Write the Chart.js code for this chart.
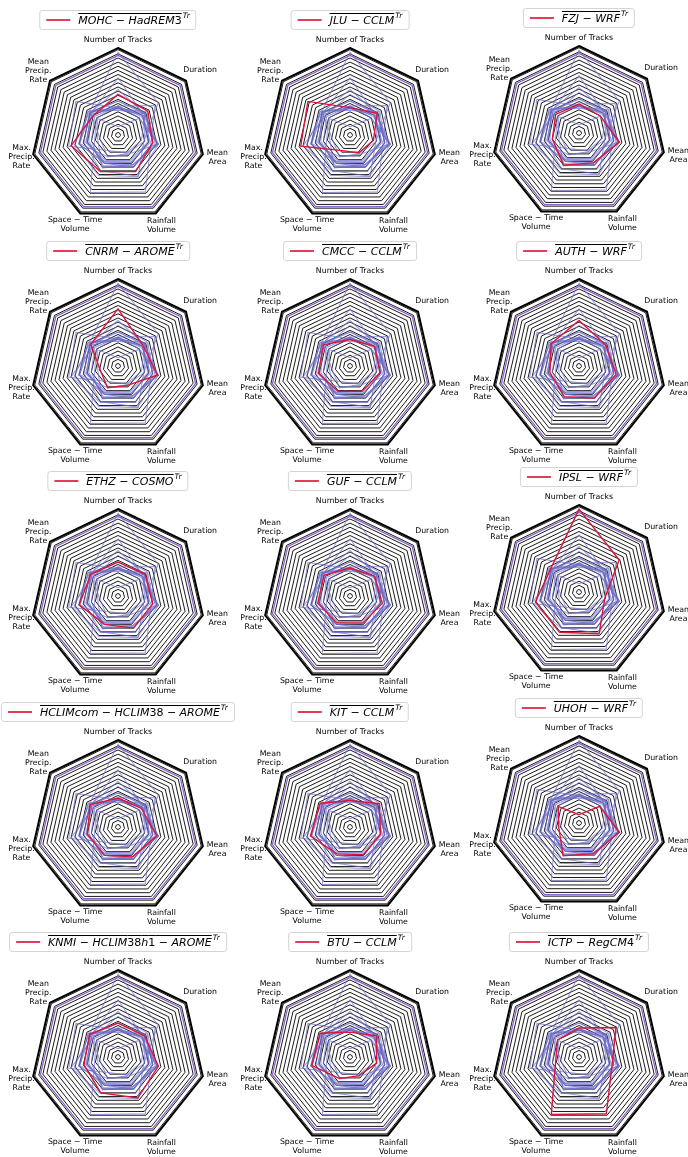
<!DOCTYPE html>
<html>
<head>
<meta charset="utf-8">
<script src="https://cdn.jsdelivr.net/npm/chart.js@4.4.1/dist/chart.umd.min.js"></script>
<style>
html,body{margin:0;padding:0;background:#fff;}
#wrap{position:relative;width:688px;height:1157px;overflow:hidden;background:#fff;}
.cell{position:absolute;width:232px;height:245px;}
.cell canvas{position:absolute;left:0;top:0;}
.leg{position:absolute;top:10px;left:116px;transform:translateX(-50%);height:20px;box-sizing:border-box;border:1px solid #d4d4d4;border-radius:3px;background:#fff;white-space:nowrap;display:flex;align-items:center;padding:0 6px 0 6px;font-family:"DejaVu Sans",sans-serif;font-size:11px;color:#000;z-index:2;}
.sw{display:inline-block;width:24px;height:1.5px;background:rgb(225,60,90);margin-right:8px;}
.nm{font-style:italic;text-decoration:overline;text-decoration-thickness:1px;}
.nm .d{font-style:normal;}
.sp{font-size:7.5px;font-style:italic;position:relative;top:-5px;margin-left:1px;}
</style>
</head>
<body>
<div id="wrap"></div>
<script>
// ---- data ----
const axisLabels = ["Number of Tracks", "Duration", "Mean\nArea", "Rainfall\nVolume", "Space \u2212 Time\nVolume", "Max.\nPrecip.\nRate", "Mean\nPrecip.\nRate"];
const modelNames = ["MOHC \u2212 HadREM3", "JLU \u2212 CCLM", "FZJ \u2212 WRF", "CNRM \u2212 AROME", "CMCC \u2212 CCLM", "AUTH \u2212 WRF", "ETHZ \u2212 COSMO", "GUF \u2212 CCLM", "IPSL \u2212 WRF", "HCLIMcom \u2212 HCLIM38 \u2212 AROME", "KIT \u2212 CCLM", "UHOH \u2212 WRF", "KNMI \u2212 HCLIM38h1 \u2212 AROME", "BTU \u2212 CCLM", "ICTP \u2212 RegCM4"];
const legendSuffix = "Tr";

const MOHC_HadREM3 = [0.46, 0.43, 0.40, 0.46, 0.46, 0.55, 0.35];
const JLU_CCLM     = [0.30, 0.39, 0.26, 0.21, 0.18, 0.58, 0.62];
const FZJ_WRF      = [0.32, 0.30, 0.47, 0.37, 0.40, 0.30, 0.33];
const CNRM_AROME   = [0.66, 0.36, 0.46, 0.23, 0.26, 0.19, 0.39];
const CMCC_CCLM    = [0.29, 0.35, 0.34, 0.31, 0.31, 0.36, 0.38];
const AUTH_WRF     = [0.52, 0.38, 0.43, 0.40, 0.38, 0.33, 0.40];
const ETHZ_COSMO   = [0.38, 0.39, 0.40, 0.40, 0.35, 0.45, 0.39];
const GUF_CCLM     = [0.31, 0.35, 0.37, 0.33, 0.33, 0.37, 0.37];
const IPSL_WRF     = [0.97, 0.59, 0.29, 0.53, 0.51, 0.51, 0.41];
const HCLIMcom_AROME = [0.32, 0.33, 0.45, 0.37, 0.35, 0.35, 0.40];
const KIT_CCLM     = [0.29, 0.42, 0.35, 0.34, 0.33, 0.46, 0.43];
const UHOH_WRF     = [0.07, 0.29, 0.47, 0.38, 0.41, 0.22, 0.29];
const KNMI_AROME   = [0.38, 0.38, 0.47, 0.52, 0.45, 0.39, 0.41];
const BTU_CCLM     = [0.27, 0.38, 0.30, 0.22, 0.26, 0.44, 0.43];
const ICTP_RegCM4  = [0.32, 0.54, 0.38, 0.73, 0.74, 0.26, 0.30];
const referenceRing = [0.93, 0.93, 0.93, 0.93, 0.93, 0.93, 0.93];

const ringValues = [0, 0.05, 0.1, 0.15, 0.2, 0.25, 0.3, 0.35, 0.4, 0.45, 0.5, 0.55, 0.6, 0.65, 0.7, 0.75, 0.8, 0.85, 0.9, 0.95, 1.0, 1.02];

const modelValues = [MOHC_HadREM3, JLU_CCLM, FZJ_WRF, CNRM_AROME, CMCC_CCLM, AUTH_WRF, ETHZ_COSMO, GUF_CCLM, IPSL_WRF, HCLIMcom_AROME, KIT_CCLM, UHOH_WRF, KNMI_AROME, BTU_CCLM, ICTP_RegCM4];

// ---- layout ----
const colCenters = [118, 350, 579];
const rowPitch = 230.5;
const col3Shift = [-2, 0, -4, -4, 0];
const labelGap = [8, 18, 15, 13, 12, 12, 15];
const CW = 232, CH = 245;

const labelPlugin = {
  id: 'axisLabels',
  afterDraw(chart) {
    const s = chart.scales.r;
    const ctx = chart.ctx;
    ctx.save();
    ctx.font = '7.8px "DejaVu Sans"';
    ctx.fillStyle = '#000';
    ctx.textAlign = 'center';
    ctx.textBaseline = 'middle';
    const R = s.drawingArea;
    axisLabels.forEach((lab, i) => {
      const lines = lab.split('\n');
      const p = s.getPointPosition(i, R + labelGap[i]);
      const lh = 9;
      lines.forEach((ln, k) => ctx.fillText(ln, p.x, p.y + (k - (lines.length - 1) / 2) * lh));
    });
    ctx.restore();
  }
};

function nameHTML(n) {
  return n.replace(/[0-9]+/g, m => '<span class="d">' + m + '</span>');
}

const wrap = document.getElementById('wrap');
modelNames.forEach((name, idx) => {
  const r = Math.floor(idx / 3), c = idx % 3;
  const cell = document.createElement('div');
  cell.className = 'cell';
  const left = Math.round(colCenters[c] - 116);
  const top = Math.round(r * rowPitch + (c === 2 ? col3Shift[r] : 0));
  cell.style.left = left + 'px';
  cell.style.top = top + 'px';
  const cv = document.createElement('canvas');
  cv.width = CW; cv.height = CH;
  cv.style.width = CW + 'px'; cv.style.height = CH + 'px';
  cell.appendChild(cv);
  const leg = document.createElement('div');
  leg.className = 'leg';
  leg.innerHTML = '<span class="sw"></span><span class="nm">' + nameHTML(name) + '</span><span class="sp">' + legendSuffix + '</span>';
  cell.appendChild(leg);
  wrap.appendChild(cell);

  const datasets = [];
  datasets.push({ label: name, data: modelValues[idx], borderColor: 'rgb(220,20,60)', borderWidth: 1.4, fill: false });
  datasets.push({ label: 'ref', data: referenceRing, borderColor: 'rgb(138,100,200)', borderWidth: 1.3, fill: false });
  modelValues.forEach((vals, j) => {
    if (j !== idx) datasets.push({ label: modelNames[j], data: vals, borderColor: 'rgba(110,110,205,0.68)', borderWidth: 1.05, fill: false });
  });

  new Chart(cv, {
    type: 'radar',
    data: { labels: axisLabels.map(l => l.split('\n')), datasets },
    options: {
      responsive: false,
      animation: false,
      devicePixelRatio: 1,
      layout: { padding: { left: 29, right: 29, top: 48, bottom: CH - 48 - 174 } },
      plugins: { legend: { display: false }, tooltip: { enabled: false } },
      elements: { point: { radius: 0, hoverRadius: 0 }, line: { tension: 0 } },
      scales: {
        r: {
          min: -0.03, max: 1.02,
          afterBuildTicks(scale) { scale.ticks = ringValues.map(v => ({ value: v })); },
          ticks: { display: false },
          pointLabels: { display: false },
          angleLines: { display: false },
          grid: {
            circular: false,
            color: '#000',
            lineWidth: (ctx) => (ctx.tick && ctx.tick.value > 1.01) ? 2 : 0.9
          }
        }
      }
    },
    plugins: [labelPlugin]
  });
});
</script>
</body>
</html>
